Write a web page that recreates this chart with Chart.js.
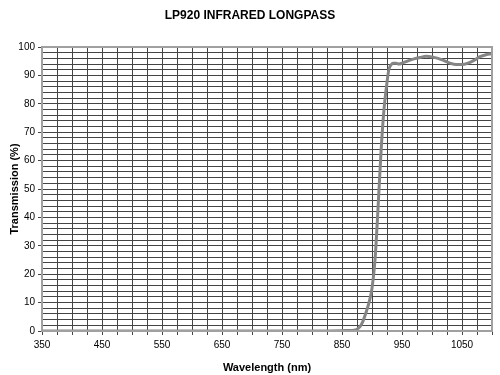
<!DOCTYPE html>
<html>
<head>
<meta charset="utf-8">
<script src="https://cdn.jsdelivr.net/npm/chart.js@4.4.1/dist/chart.umd.min.js"></script>
<style>
  html, body { margin: 0; padding: 0; background: #fff; }
  #wrap { width: 500px; height: 375px; }
</style>
</head>
<body>
<div id="wrap"><canvas id="c" width="500" height="375"></canvas></div>
<script>
const wavelengths = [350, 400, 450, 500, 550, 600, 650, 700, 750, 800, 850, 860, 870, 875, 880, 885, 890, 895, 900, 905, 910, 915, 920, 925, 928, 931, 935, 940, 945, 950, 960, 970, 980, 990, 1000, 1010, 1020, 1030, 1040, 1050, 1060, 1070, 1080, 1090, 1100];
const transmission = [0, 0, 0, 0, 0, 0, 0, 0, 0, 0, 0.1, 0.2, 0.3, 0.6, 1.5, 3.5, 6.5, 10, 15, 25, 43, 63, 78, 87.5, 92, 93.5, 94.3, 94.3, 94.0, 94.3, 95.1, 95.8, 96.3, 96.7, 96.5, 96.0, 95.2, 94.3, 93.8, 93.8, 94.3, 95.3, 96.6, 97.3, 97.6];
const xLabels = [350, 450, 550, 650, 750, 850, 950, 1050];
const yLabels = [0, 10, 20, 30, 40, 50, 60, 70, 80, 90, 100];

const points = wavelengths.map((w, i) => ({ x: w, y: transmission[i] }));

const borderPlugin = {
  id: 'plotBorder',
  afterDraw(chart) {
    const { ctx, chartArea: a } = chart;
    ctx.save();
    ctx.strokeStyle = '#a0a0a0';
    ctx.lineWidth = 2;
    ctx.strokeRect(a.left, a.top, a.right - a.left, a.bottom - a.top);
    ctx.restore();
  }
};

new Chart(document.getElementById('c'), {
  type: 'scatter',
  data: {
    datasets: [{
      data: points,
      showLine: true,
      borderColor: '#858585',
      borderWidth: 3,
      pointRadius: 0,
      cubicInterpolationMode: 'monotone',
      fill: false
    }]
  },
  options: {
    responsive: false,
    animation: false,
    layout: { padding: { left: 8, right: 8, top: 0, bottom: 0 } },
    plugins: {
      legend: { display: false },
      tooltip: { enabled: false },
      title: {
        display: true,
        text: 'LP920 INFRARED LONGPASS',
        color: '#000',
        font: { family: 'Liberation Sans, Arial, sans-serif', size: 12, weight: 'bold' },
        padding: { top: 8, bottom: 24.6 }
      }
    },
    scales: {
      x: {
        type: 'linear',
        min: 350,
        max: 1100,
        afterBuildTicks(scale) {
          const t = [];
          for (let v = 350; v <= 1100; v += 25) t.push({ value: v });
          scale.ticks = t;
        },
        afterFit(scale) { scale.height = 44; },
        ticks: {
          autoSkip: false,
          maxRotation: 0,
          color: '#000',
          font: { family: 'Liberation Sans, Arial, sans-serif', size: 10 },
          padding: 4,
          callback: (v) => xLabels.includes(v) ? String(v) : ''
        },
        grid: {
          color: '#444',
          lineWidth: 1,
          tickLength: 4,
          tickColor: '#444'
        },
        border: { display: false },
        title: {
          display: true,
          text: 'Wavelength (nm)',
          color: '#000',
          font: { family: 'Liberation Sans, Arial, sans-serif', size: 11, weight: 'bold' },
          padding: { top: 2, bottom: 0 }
        }
      },
      y: {
        type: 'linear',
        min: 0,
        max: 100,
        afterBuildTicks(scale) {
          const t = [];
          for (let v = 0; v <= 100; v += 2) t.push({ value: v });
          scale.ticks = t;
        },
        afterFit(scale) { scale.width = 34; },
        ticks: {
          autoSkip: false,
          color: '#000',
          font: { family: 'Liberation Sans, Arial, sans-serif', size: 10 },
          padding: 3,
          callback: (v) => yLabels.includes(v) ? String(v) : ''
        },
        grid: {
          color: '#444',
          lineWidth: 1,
          tickLength: 4,
          tickColor: (ctx) => (ctx.tick && ctx.tick.value % 10 === 0) ? '#444' : 'rgba(0,0,0,0)'
        },
        border: { display: false },
        title: {
          display: true,
          text: 'Transmission (%)',
          color: '#000',
          font: { family: 'Liberation Sans, Arial, sans-serif', size: 11, weight: 'bold' },
          padding: { top: 0, bottom: 2 }
        }
      }
    }
  },
  plugins: [borderPlugin]
});
</script>
</body>
</html>
